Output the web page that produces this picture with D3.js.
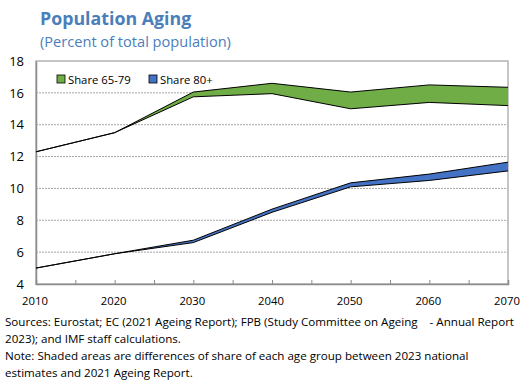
<!DOCTYPE html>
<html>
<head>
<meta charset="utf-8">
<script src="https://cdn.jsdelivr.net/npm/d3@7"></script>
<style>
  body { margin: 0; background: #fff; }
  svg { display: block; }
  text { font-family: "Open Sans", "Noto Sans", sans-serif; }
</style>
</head>
<body>
<div id="chart"></div>
<script>
var years = [2010, 2020, 2030, 2040, 2050, 2060, 2070];
// 65-79: 2023 national estimates vs 2021 Ageing Report
var share6579_new = [12.3, 13.5, 16.05, 16.6, 16.05, 16.5, 16.35];
var share6579_old = [12.3, 13.5, 15.75, 15.95, 15.0, 15.4, 15.2];
// 80+
var share80_new = [5.0, 5.9, 6.75, 8.7, 10.35, 10.9, 11.65];
var share80_old = [5.0, 5.9, 6.6, 8.5, 10.1, 10.5, 11.1];
var yTicks = [4, 6, 8, 10, 12, 14, 16, 18];
var xTicks = [2010, 2020, 2030, 2040, 2050, 2060, 2070];
var legendLabels = ["Share 65-79", "Share 80+"];
var colors = ["#70AD47", "#4472C4"];

var svgwidth = 527;
var svgheight = 383;
var mLeft = 36, mRight = 508, mTop = 61, mBottom = 284;

var svg = d3
  .select("#chart")
  .append("svg")
  .attr("width", svgwidth)
  .attr("height", svgheight);

svg.append("text")
  .attr("x", 40)
  .attr("y", 25)
  .style("font-weight", "700")
  .style("font-size", "17.8px")
  .style("fill", "#4A7EBB")
  .text("Population Aging");

svg.append("text")
  .attr("x", 40)
  .attr("y", 47)
  .style("font-size", "14.6px")
  .style("fill", "#4A7EBB")
  .text("(Percent of total population)");

var x = d3.scaleLinear().domain([2010, 2070]).range([mLeft, mRight]);
var y = d3.scaleLinear().domain([4, 18]).range([mBottom, mTop]);

// dotted gridlines
svg.append("g")
  .selectAll("line")
  .data(yTicks.filter((d) => d > 4 && d < 18))
  .join("line")
  .attr("x1", mLeft)
  .attr("x2", mRight)
  .attr("y1", (d) => y(d))
  .attr("y2", (d) => y(d))
  .attr("stroke", "#a6a6a6")
  .attr("stroke-width", 1)
  .attr("stroke-dasharray", "2,1");

// frame
svg.append("rect")
  .attr("x", mLeft)
  .attr("y", mTop)
  .attr("width", mRight - mLeft)
  .attr("height", mBottom - mTop)
  .attr("fill", "none")
  .attr("stroke", "#b3b3b3")
  .attr("stroke-width", 1.5);

var yaxis = d3.axisLeft(y).tickValues(yTicks).tickSize(0).tickPadding(12);
svg.append("g")
  .attr("transform", "translate(" + mLeft + ",0)")
  .call(yaxis)
  .call((g) => g.select(".domain").attr("stroke", "#8c8c8c").attr("stroke-width", 1.5))
  .selectAll("text")
  .style("font-family", "'Open Sans', sans-serif")
  .style("font-size", "13px")
  .style("fill", "#000");

var minor = d3.range(2015, 2070, 5);
var xaxis = d3.axisBottom(x).tickValues(minor).tickSize(-4).tickFormat("");
svg.append("g")
  .attr("transform", "translate(0," + mBottom + ")")
  .call(xaxis)
  .call((g) => g.select(".domain").attr("stroke", "#8c8c8c").attr("stroke-width", 1.5))
  .call((g) => g.selectAll(".tick line").attr("stroke", "#8c8c8c"));

svg.append("g")
  .selectAll("text")
  .data(xTicks)
  .join("text")
  .attr("x", (d) => x(d) - 1)
  .attr("y", mBottom + 21)
  .attr("text-anchor", "middle")
  .style("font-size", "11.3px")
  .text((d) => d);

// bands
var bands = [
  { hi: share6579_new, lo: share6579_old, color: colors[0] },
  { hi: share80_new, lo: share80_old, color: colors[1] }
];

var area = d3.area()
  .x((d) => x(d.year))
  .y0((d) => y(d.lo))
  .y1((d) => y(d.hi));
var line = d3.line()
  .x((d) => x(d.year))
  .y((d) => y(d.v));

bands.forEach(function (b) {
  var pts = years.map((yr, i) => ({ year: yr, hi: b.hi[i], lo: b.lo[i] }));
  svg.append("path")
    .datum(pts)
    .attr("d", area)
    .attr("fill", b.color);
  [b.hi, b.lo].forEach(function (arr) {
    svg.append("path")
      .datum(years.map((yr, i) => ({ year: yr, v: arr[i] })))
      .attr("d", line)
      .attr("fill", "none")
      .attr("stroke", "#000")
      .attr("stroke-width", 1);
  });
});

// legend
var legend = svg.selectAll(".legend")
  .data(legendLabels)
  .enter()
  .append("g")
  .attr("class", "legend")
  .attr("transform", (d, i) => "translate(" + (57 + 92 * i) + ",75)");

legend.append("rect")
  .attr("width", 8)
  .attr("height", 8)
  .attr("fill", (d, i) => colors[i])
  .attr("stroke", "#000")
  .attr("stroke-width", 0.8);

legend.append("text")
  .attr("x", 11)
  .attr("y", 8.5)
  .style("font-size", "11.3px")
  .text((d) => d);

// footnotes
var notes = [
  "Sources: Eurostat; EC (2021 Ageing Report); FPB (Study Committee on Ageing    - Annual Report",
  "2023); and IMF staff calculations.",
  "Note: Shaded areas are differences of share of each age group between 2023 national",
  "estimates and 2021 Ageing Report."
];
svg.append("g")
  .selectAll("text")
  .data(notes)
  .join("text")
  .attr("x", 5)
  .attr("y", (d, i) => 326 + 17 * i)
  .attr("xml:space", "preserve")
  .style("white-space", "pre")
  .style("font-size", "11.6px")
  .text((d) => d);
</script>
</body>
</html>
